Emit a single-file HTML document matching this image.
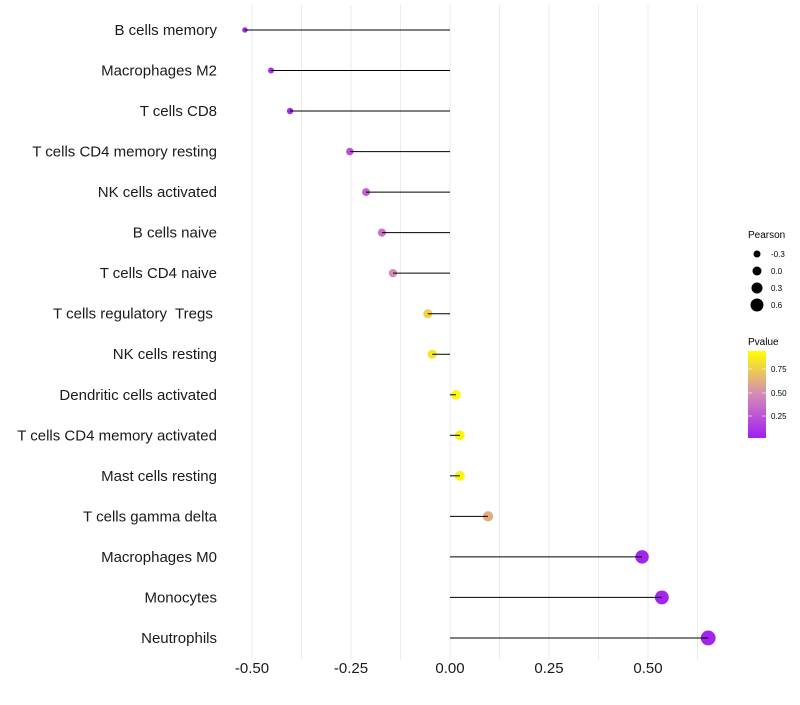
<!DOCTYPE html>
<html><head><meta charset="utf-8"><style>
body{margin:0;background:#fff;font-family:"Liberation Sans",sans-serif}
text{white-space:pre}
</style></head><body>
<svg id="chart" width="800" height="700" xmlns="http://www.w3.org/2000/svg">
<defs><linearGradient id="pg" x1="0" y1="1" x2="0" y2="0">
<stop offset="0" stop-color="#A020F0"/><stop offset="0.5" stop-color="#D48AB8"/><stop offset="1" stop-color="#FFFF00"/></linearGradient></defs>
<g id="grid"></g><g id="points"></g><g id="stems"></g><g id="ylabels"></g><g id="xlabels"></g>
<g font-size="8" fill="#000">
<text x="748" y="238" font-size="10">Pearson</text>
<circle cx="757" cy="254" r="3.5"/><text x="771" y="257">-0.3</text>
<circle cx="757" cy="271" r="4.5"/><text x="771" y="274">0.0</text>
<circle cx="757" cy="288" r="5.5"/><text x="771" y="291">0.3</text>
<circle cx="757" cy="305" r="6.5"/><text x="771" y="308">0.6</text>
<text x="748" y="345" font-size="10">Pvalue</text>
<rect x="748" y="351" width="18" height="87" fill="url(#pg)"/>
<g stroke="#fff" stroke-opacity="0.6"><line x1="748" x2="752" y1="369" y2="369"/><line x1="762" x2="766" y1="369" y2="369"/><line x1="748" x2="752" y1="393" y2="393"/><line x1="762" x2="766" y1="393" y2="393"/><line x1="748" x2="752" y1="416" y2="416"/><line x1="762" x2="766" y1="416" y2="416"/></g>
<text x="771" y="372">0.75</text><text x="771" y="396">0.50</text><text x="771" y="419">0.25</text>
</g>
</svg>
<script>
const categories=["B cells memory","Macrophages M2","T cells CD8","T cells CD4 memory resting","NK cells activated","B cells naive","T cells CD4 naive","T cells regulatory  Tregs ","NK cells resting","Dendritic cells activated","T cells CD4 memory activated","Mast cells resting","T cells gamma delta","Macrophages M0","Monocytes","Neutrophils"];
const pearson=[-0.518,-0.452,-0.404,-0.253,-0.212,-0.172,-0.144,-0.056,-0.045,0.015,0.025,0.025,0.096,0.485,0.535,0.652];
const pvalue=[0.05,0.05,0.04,0.25,0.3,0.4,0.5,0.8,0.9,0.98,0.95,0.95,0.65,0.03,0.03,0.02];
const xticks=[-0.5,-0.25,0,0.25,0.5];
const xtickLabels=["-0.50","-0.25","0.00","0.25","0.50"];
const NS="http://www.w3.org/2000/svg";
const X=v=>450+v*396;
const Y=i=>30+i*40.53;
function mk(t,a,p){const e=document.createElementNS(NS,t);for(const k in a)e.setAttribute(k,a[k]);p.appendChild(e);return e;}
function lerp(a,b,t){return a.map((v,i)=>Math.round(v+(b[i]-v)*t));}
function col(p){const c0=[160,32,240],c1=[212,138,184],c2=[255,255,0];const c=p<0.5?lerp(c0,c1,p/0.5):lerp(c1,c2,(p-0.5)/0.5);return `rgb(${c})`;}
const grid=document.getElementById('grid');
for(let v=-0.5;v<=0.651;v+=0.125){const l=mk('line',{x1:X(v),x2:X(v),y1:5,y2:660,stroke:'#ebebeb','stroke-width':1},grid);

}
const pts=document.getElementById('points'),stems=document.getElementById('stems'),yl=document.getElementById('ylabels'),xl=document.getElementById('xlabels');
categories.forEach((c,i)=>{
const y=Y(i);
const r=Math.max(1.8,4.8+4*pearson[i]);
const p=mk('circle',{cx:X(pearson[i]),cy:y,r:r,fill:col(pvalue[i])},pts);


const s=mk('line',{x1:X(0),x2:X(pearson[i]),y1:y,y2:y,stroke:'#000','stroke-width':1},stems);


const t=mk('text',{x:217,y:y+5,'text-anchor':'end','font-size':15,fill:'#1a1a1a'},yl);
t.textContent=c;


});
xticks.forEach((v,i)=>{const t=mk('text',{x:X(v),y:673,'text-anchor':'middle','font-size':15,fill:'#1a1a1a'},xl);
t.textContent=xtickLabels[i];

});
</script>
</body></html>
